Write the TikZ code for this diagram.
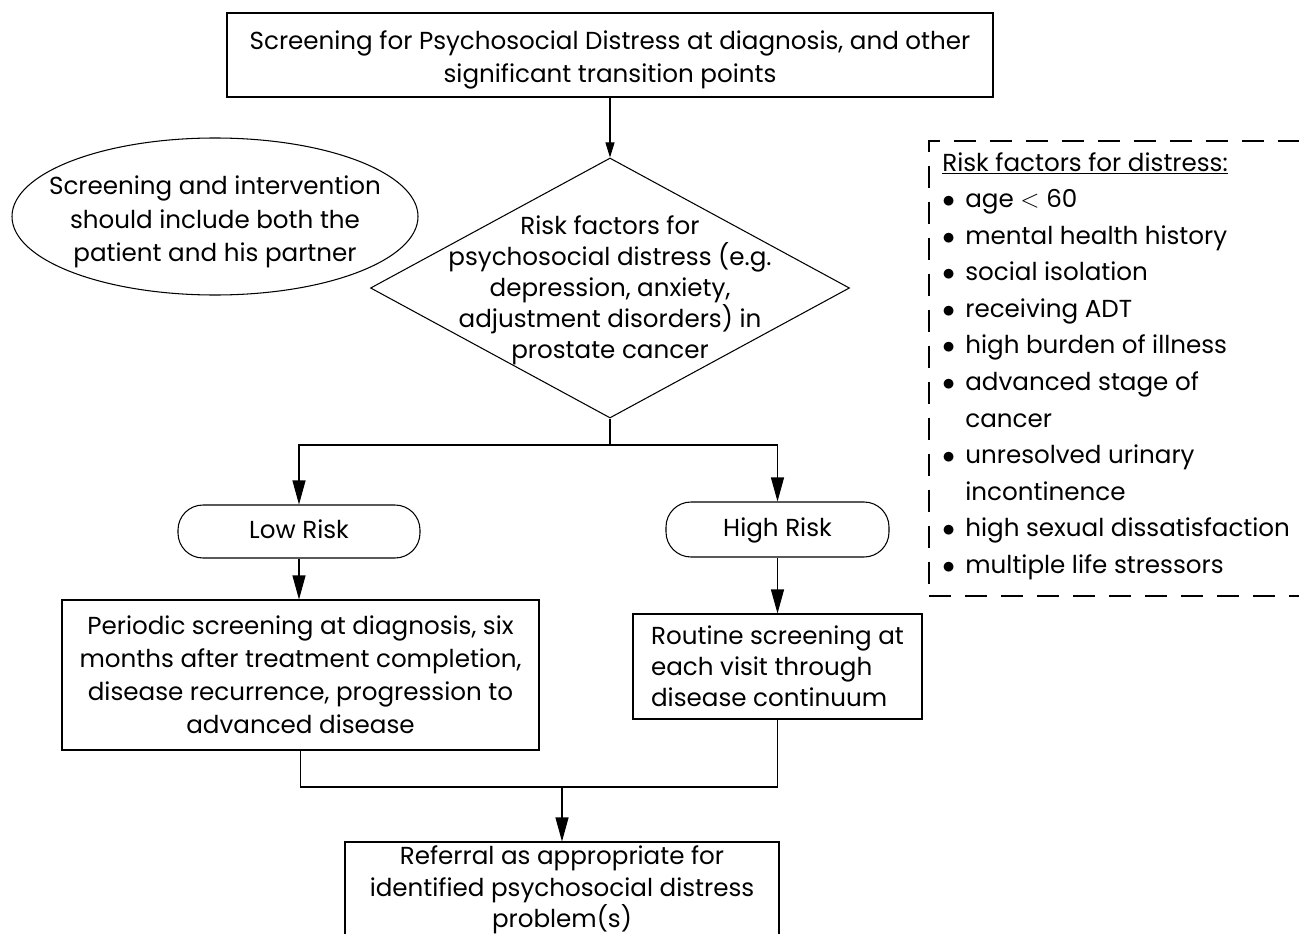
\documentclass[tikz,border=0pt]{standalone}
\usepackage{fontspec}
\setmainfont{Poppins}
\usetikzlibrary{shapes.geometric}
\usetikzlibrary{arrows.meta}
\usetikzlibrary{positioning}
\tikzset{stepbox/.style={draw, line width=0.6pt, inner sep=0pt, align=center}}
\tikzset{riskpill/.style={draw, line width=0.6pt, rounded corners=0.5cm, inner sep=0pt, text height=0.9em, text depth=0.1em}}
\tikzset{decision/.style={draw, diamond, line width=0.6pt, inner sep=0pt}}
\tikzset{note/.style={draw, ellipse, line width=0.6pt, inner sep=0pt}}
\tikzset{flow/.style={line width=0.6pt, -{Triangle[length=0.48cm,width=0.26cm]}}}
\tikzset{link/.style={line width=0.6pt}}
\tikzset{factorbox/.style={draw, line width=1.1pt, dash pattern=on 0.44cm off 0.28cm}}
\newcommand{\bul}{\makebox[0.46cm][l]{$\bullet$}}

\begin{document}
\begin{tikzpicture}[font=\fontsize{14}{18.7}\selectfont]
\useasboundingbox (0,0) rectangle (25.98,-18.68);
\clip (0,0) rectangle (25.98,-18.68);
% main column
\node[stepbox, minimum width=15.32cm, minimum height=1.68cm] (screen) at (12.2,-1.1) {\rule{0pt}{1.15em}Screening for Psychosocial Distress at diagnosis, and other\\ significant transition points};
\node[decision, minimum width=9.58cm, minimum height=5.2cm] (risk) at (12.2,-5.76) {};
\node[align=center, inner sep=0pt, font=\fontsize{14}{17.6}\selectfont] (risktext) at (12.2,-5.8) {Risk factors for\\ psychosocial distress (e.g.\\ depression, anxiety,\\ adjustment disorders) in\\ prostate cancer};
\node[note, minimum width=8.12cm, minimum height=3.14cm] (partner) at (4.3,-4.33) {};
\node[align=center, inner sep=0pt, font=\fontsize{14}{19.2}\selectfont] (partnertext) at (4.3,-4.44) {Screening and intervention\\ should include both the\\ patient and his partner};
\coordinate (split) at (12.2,-8.9);
\node[riskpill, minimum width=4.84cm, minimum height=1.06cm] (low) at (5.98,-10.63) {Low Risk};
\node[riskpill, minimum width=4.46cm, minimum height=1.1cm] (high) at (15.55,-10.59) {High Risk};
\node[stepbox, minimum width=9.54cm, minimum height=3.0cm] (periodic) at (6.01,-13.5) {Periodic screening at diagnosis, six\\ months after treatment completion,\\ disease recurrence, progression to\\ advanced disease};
\node[stepbox, align=left, minimum width=5.78cm, minimum height=2.1cm, font=\fontsize{14}{17.6}\selectfont] (routine) at (15.55,-13.33) {Routine screening at\\ each visit through\\ disease continuum};
\coordinate (merge) at (11.24,-15.74);
\node[stepbox, minimum width=8.68cm, minimum height=1.92cm, font=\fontsize{14}{17.8}\selectfont] (referral) at (11.24,-17.8) {Referral as appropriate for\\ identified psychosocial distress\\ problem(s)};
% risk factors
\node[factorbox, anchor=north west, minimum width=7.8cm, minimum height=9.1cm] (factors) at (18.56,-2.8) {};
\node[anchor=north west, align=left, inner sep=0pt, font=\fontsize{14}{20.8}\selectfont] (factorlist) at (18.84,-3.04) {\underline{Risk factors for distress:}\\
\bul age $<$ 60\\
\bul mental health history\\
\bul social isolation\\
\bul receiving ADT\\
\bul high burden of illness\\
\bul advanced stage of\\
\hspace*{0.46cm}cancer\\
\bul unresolved urinary\\
\hspace*{0.46cm}incontinence\\
\bul high sexual dissatisfaction\\
\bul multiple life stressors};
% connectors
\draw[link, -{Triangle[length=0.3cm,width=0.18cm]}] (screen.south) -- (risk.north);
\draw[link] (risk.south) -- (split);
\draw[flow] (split) -| (low.north);
\draw[flow] (split) -| (high.north);
\draw[flow] (low.south) -- (low.south |- periodic.north);
\draw[flow] (high.south) -- (routine.north);
\draw[link] (periodic.south) |- (merge) -| (routine.south);
\draw[flow] (merge) -- (referral.north);
\end{tikzpicture}
\end{document}
